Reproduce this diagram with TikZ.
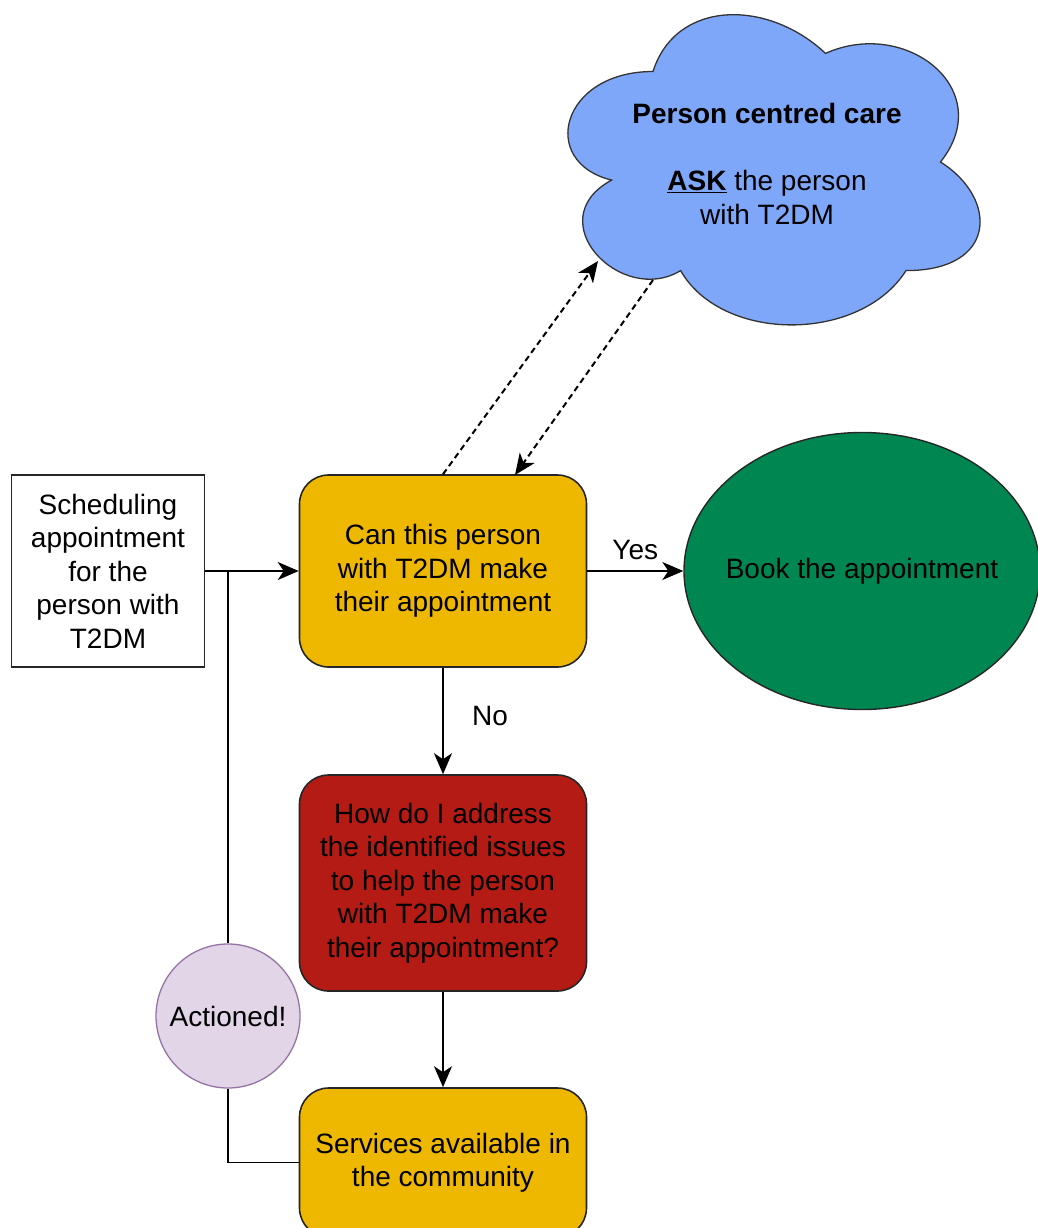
\documentclass[tikz,border=0pt]{standalone}
\usepackage{fontspec}
\setmainfont{Liberation Sans}
\usetikzlibrary{arrows.meta,shapes.geometric}

\definecolor{boxyellow}{HTML}{EFB800}
\definecolor{boxred}{HTML}{B31B14}
\definecolor{bookgreen}{HTML}{008751}
\definecolor{cloudblue}{HTML}{7FA7F9}
\definecolor{actionfill}{HTML}{E1D5E7}
\definecolor{actionline}{HTML}{9673A6}

\begin{document}
\begin{tikzpicture}[x=1pt,y=-1pt,
  every node/.style={font=\fontsize{28}{33.5}\selectfont, align=center, inner sep=0pt},
  flowbox/.style={draw=black!85, line width=1.6pt, rounded corners=29pt, minimum width=287pt},
  plainbox/.style={draw=black!85, line width=1.8pt, fill=white, minimum width=193pt, minimum height=192pt},
  conn/.style={line width=1.6pt, -{Stealth[length=21pt,width=18pt,inset=6pt]}},
  dashconn/.style={line width=2pt, dash pattern=on 6pt off 4pt, -{Stealth[length=21pt,width=18pt,inset=6pt]}},
  plainline/.style={line width=1.6pt}]

\useasboundingbox (0,0) rectangle (1038,1228);

% cloud: person centred care
\begin{scope}[shift={(538,-19)}, x=460pt, y=-362pt]
  \filldraw[fill=cloudblue, draw=black!80, line width=1.3pt]
    (0.25,0.25) .. controls (0.05,0.25) and (0,0.5) .. (0.16,0.55)
    .. controls (0,0.66) and (0.18,0.9) .. (0.31,0.8)
    .. controls (0.4,1) and (0.7,1) .. (0.8,0.8)
    .. controls (1,0.8) and (1,0.6) .. (0.875,0.5)
    .. controls (1,0.3) and (0.8,0.1) .. (0.625,0.2)
    .. controls (0.5,0.05) and (0.3,0.05) .. cycle;
\end{scope}
\node (cloud) at (767,164) {\textbf{Person centred care}\\[33.5pt]\underline{\textbf{ASK}} the person\\with T2DM};
\coordinate (cloudin) at (598,261);
\coordinate (cloudout) at (653,280);

% flow nodes
\node[plainbox] (sched) at (108,571) {Scheduling\\appointment\\for the\\person with\\T2DM};
\node[flowbox, fill=boxyellow, minimum height=192pt] (can) at (443,571) {Can this person\\with T2DM make\\their appointment};
\node[ellipse, draw=black!85, line width=1.4pt, fill=bookgreen, minimum width=356pt, minimum height=277pt] (book) at (862,571) {\makebox[0pt]{Book the appointment}};
\node[flowbox, fill=boxred, minimum height=216pt] (red) at (443,883) {How do I address\\the identified issues\\to help the person\\with T2DM make\\their appointment?};
\node[flowbox, fill=boxyellow, minimum height=149pt] (serv) at (443,1162.5) {Services available in\\the community};
\node[circle, draw=actionline, fill=actionfill, line width=1.3pt, minimum size=144pt] (act) at (228,1016) {Actioned!};

\coordinate (junction) at (228,571);
\coordinate (canin) at (515,475);

% connectors
\draw[conn] (sched) -- (can);
\draw[conn] (can) -- (book) node[pos=0.5, above=10pt] (yes) {Yes};
\draw[conn] (can) -- (red);
\node (no) at (490,716) {No};
\draw[conn] (red) -- (serv);
\draw[plainline] (junction) -- (act);
\draw[plainline] (act.south) |- (serv.west);
\draw[dashconn] (can.north) -- (cloudin);
\draw[dashconn] (cloudout) -- (canin);
\end{tikzpicture}
\end{document}
